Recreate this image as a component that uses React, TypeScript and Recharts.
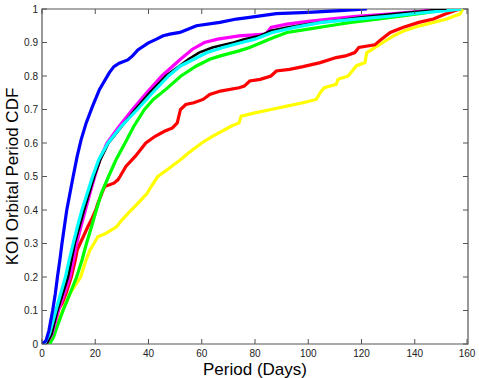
import { LineChart, Line, XAxis, YAxis, ReferenceArea } from "recharts";

// [period (days), cumulative fraction]
const blue = [
  [0, 0], [1.5, 0.01], [2.6, 0.04], [4, 0.1], [5, 0.15], [5.8, 0.2], [6.7, 0.25], [7.5, 0.3],
  [8.4, 0.35], [9.3, 0.4], [10.5, 0.45], [11.7, 0.5], [13.2, 0.56], [14.7, 0.61], [16.6, 0.66],
  [19, 0.71], [21.6, 0.76], [25.3, 0.81], [27, 0.828], [29, 0.838], [32.2, 0.848], [34, 0.86],
  [36, 0.878], [39.8, 0.898], [43, 0.91], [45.5, 0.92], [48, 0.925], [51.8, 0.93], [55, 0.94],
  [58, 0.95], [66.8, 0.96], [73, 0.97], [78, 0.975], [88, 0.986], [100, 0.99], [112, 0.995],
  [122, 1],
];

const magenta = [
  [0, 0], [2, 0.005], [3.8, 0.03], [6.2, 0.1], [8.4, 0.15], [10.5, 0.2], [11.8, 0.25], [13, 0.3],
  [14.6, 0.35], [16.3, 0.4], [18, 0.45], [19.8, 0.5], [21.7, 0.55], [24.4, 0.6], [29, 0.65],
  [34, 0.7], [39.3, 0.75], [45, 0.8], [52, 0.85], [56.5, 0.88], [61, 0.9], [66, 0.91], [74, 0.92],
  [84, 0.925], [86, 0.945], [92, 0.955], [100, 0.963], [108, 0.97], [118, 0.978], [130, 0.985],
  [142, 0.993], [150, 1],
];

const black = [
  [0, 0], [2, 0.005], [3.6, 0.03], [5.8, 0.1], [9.8, 0.2], [12.3, 0.3], [15.8, 0.4], [19.6, 0.5],
  [21.9, 0.55], [25, 0.6], [30, 0.65], [35, 0.7], [40.5, 0.75], [46.5, 0.8], [55, 0.85],
  [59, 0.87], [64, 0.885], [72, 0.9], [76, 0.91], [82, 0.92], [86, 0.935], [92, 0.945],
  [100, 0.955], [110, 0.965], [120, 0.975], [132, 0.985], [145, 0.995], [152, 1],
];

const cyan = [
  [0, 0], [1.2, 0.005], [2.8, 0.03], [5.2, 0.1], [7, 0.15], [8.8, 0.2], [10.2, 0.25], [11.7, 0.3],
  [13.3, 0.35], [15, 0.4], [17, 0.45], [19, 0.5], [21.3, 0.55], [24.8, 0.6], [29.8, 0.65],
  [35.8, 0.7], [41.5, 0.75], [47.5, 0.8], [52, 0.83], [57, 0.85], [62, 0.87], [68, 0.885],
  [75, 0.9], [80, 0.91], [86.5, 0.93], [95, 0.945], [105, 0.96], [118, 0.97], [130, 0.978],
  [142, 0.988], [152, 0.995], [157.5, 1],
];

const green = [
  [0, 0], [3, 0.002], [4.3, 0.02], [5.6, 0.05], [7.9, 0.1], [10.5, 0.15], [13, 0.2], [15, 0.25],
  [16.7, 0.3], [18.6, 0.35], [20.4, 0.4], [22.3, 0.45], [25, 0.5], [27.8, 0.55], [31.2, 0.6],
  [34.5, 0.65], [38.5, 0.7], [41.8, 0.73], [46.5, 0.76], [52.2, 0.8], [58, 0.83], [63, 0.85],
  [67, 0.86], [74, 0.875], [78, 0.885], [82.5, 0.9], [87, 0.915], [92, 0.93], [100, 0.94],
  [108, 0.95], [116, 0.96], [126, 0.97], [136, 0.98], [145, 0.99], [152, 1],
];

const red = [
  [0, 0], [1.5, 0.005], [3, 0.03], [4.5, 0.07], [5.8, 0.1], [7.5, 0.12], [9, 0.15], [11, 0.2],
  [12.5, 0.25], [13.2, 0.28], [14.3, 0.3], [15.5, 0.32], [17.2, 0.35], [18.5, 0.37], [20.2, 0.4],
  [21, 0.42], [22.5, 0.45], [23.5, 0.47], [27, 0.48], [28.5, 0.49], [29.3, 0.5], [31.5, 0.53],
  [35, 0.56], [37, 0.58], [39, 0.6], [42.5, 0.62], [46, 0.635], [49, 0.645], [50.8, 0.66],
  [52, 0.7], [54, 0.715], [57, 0.72], [60.5, 0.73], [63, 0.745], [67, 0.755], [74, 0.765],
  [76, 0.77], [78, 0.785], [82, 0.79], [86, 0.8], [88, 0.815], [93, 0.82], [98, 0.828],
  [104.5, 0.84], [110.5, 0.855], [114, 0.86], [117.5, 0.87], [119, 0.885], [125, 0.893],
  [127.5, 0.91], [130.8, 0.93], [135.5, 0.945], [141.5, 0.96], [147, 0.97], [151.5, 0.985],
  [155, 0.995], [157, 1],
];

const yellow = [
  [0, 0], [2, 0.005], [5, 0.05], [7.8, 0.1], [10.5, 0.15], [14.5, 0.2], [16.5, 0.25], [18, 0.28],
  [19.5, 0.3], [21, 0.32], [24, 0.33], [28, 0.35], [30, 0.37], [33.5, 0.4], [36, 0.42],
  [39.5, 0.45], [41, 0.47], [43.5, 0.5], [47, 0.52], [52, 0.55], [55, 0.57], [60, 0.6],
  [64, 0.62], [71, 0.65], [74, 0.66], [74.8, 0.68], [80, 0.69], [86, 0.7], [92, 0.71],
  [98, 0.72], [103, 0.73], [104.5, 0.75], [106, 0.765], [110.5, 0.775], [111.2, 0.79],
  [115, 0.8], [116.5, 0.815], [118, 0.83], [121.3, 0.84], [122, 0.87], [125, 0.885],
  [128, 0.9], [132, 0.92], [136, 0.935], [141, 0.948], [147, 0.96], [152, 0.97],
  [157, 0.985], [158, 1],
];

const xTicks = [0, 20, 40, 60, 80, 100, 120, 140, 160];
const yTicks = [0, 0.1, 0.2, 0.3, 0.4, 0.5, 0.6, 0.7, 0.8, 0.9, 1];

// drawing order: first ones end up underneath
const series = [
  { name: "yellow", color: "#ffff00", width: 3.2, points: yellow },
  { name: "red", color: "#ff0000", width: 3.2, points: red },
  { name: "green", color: "#00ff00", width: 3.2, points: green },
  { name: "magenta", color: "#ff00ff", width: 3.2, points: magenta },
  { name: "black", color: "#000000", width: 2.6, points: black },
  { name: "cyan", color: "#00ffff", width: 3.2, points: cyan },
  { name: "blue", color: "#0000ff", width: 3.2, points: blue },
];

const W = 479;
const H = 378;
const M = { top: 9, right: 11, left: 0, bottom: 0 };
const Y_W = 42;
const X_H = 34;
const PLOT_W = W - M.right - Y_W;
const PLOT_H = H - M.top - X_H;
const FONT = "'Liberation Sans', Arial, Helvetica, sans-serif";
const AXIS = "#555";

const XTick = (props: any) => {
  const { x, y, payload } = props;
  return (
    <g>
      <line x1={x} y1={y} x2={x} y2={y - 5} stroke={AXIS} />
      <line x1={x} y1={y - PLOT_H} x2={x} y2={y - PLOT_H + 5} stroke={AXIS} />
      <text x={x} y={y + 13} textAnchor="middle" fontSize={10} fontFamily={FONT} fill="#222">
        {payload.value}
      </text>
    </g>
  );
};

const YTick = (props: any) => {
  const { x, y, payload } = props;
  return (
    <g>
      <line x1={x} y1={y} x2={x + 5} y2={y} stroke={AXIS} />
      <line x1={x + PLOT_W} y1={y} x2={x + PLOT_W - 5} y2={y} stroke={AXIS} />
      <text x={x - 4} y={y + 3.5} textAnchor="end" fontSize={10} fontFamily={FONT} fill="#222">
        {payload.value}
      </text>
    </g>
  );
};

export default function App() {
  return (
    <div style={{ position: "absolute", left: 0, top: 0, width: W, height: H, background: "#fff" }}>
      <LineChart width={W} height={H} margin={M}>
        <XAxis
          dataKey="x"
          type="number"
          domain={[0, 160]}
          ticks={xTicks}
          height={X_H}
          tickSize={0}
          tickMargin={0}
          tickLine={false}
          axisLine={false}
          tick={<XTick />}
          allowDataOverflow
          label={{
            value: "Period (Days)",
            position: "insideBottom",
            offset: 3,
            fontSize: 17,
            fontFamily: FONT,
            fill: "#000",
          }}
        />
        <YAxis
          dataKey="y"
          type="number"
          domain={[0, 1]}
          ticks={yTicks}
          width={Y_W}
          tickSize={0}
          tickMargin={0}
          tickLine={false}
          axisLine={false}
          tick={<YTick />}
          allowDataOverflow
          label={{
            value: "KOI Orbital Period CDF",
            angle: -90,
            position: "insideLeft",
            offset: 0,
            dx: 12,
            fontSize: 17,
            fontFamily: FONT,
            fill: "#000",
            style: { textAnchor: "middle" },
          }}
        />
        <ReferenceArea x1={0} x2={160} y1={0} y2={1} fill="none" stroke={AXIS} strokeWidth={1.2} ifOverflow="visible" />
        {series.map((s) => (
          <Line
            key={s.name}
            data={s.points.map(([x, y]) => ({ x, y }))}
            dataKey="y"
            type="linear"
            stroke={s.color}
            strokeWidth={s.width}
            dot={false}
            activeDot={false}
            isAnimationActive={false}
          />
        ))}
      </LineChart>
    </div>
  );
}
